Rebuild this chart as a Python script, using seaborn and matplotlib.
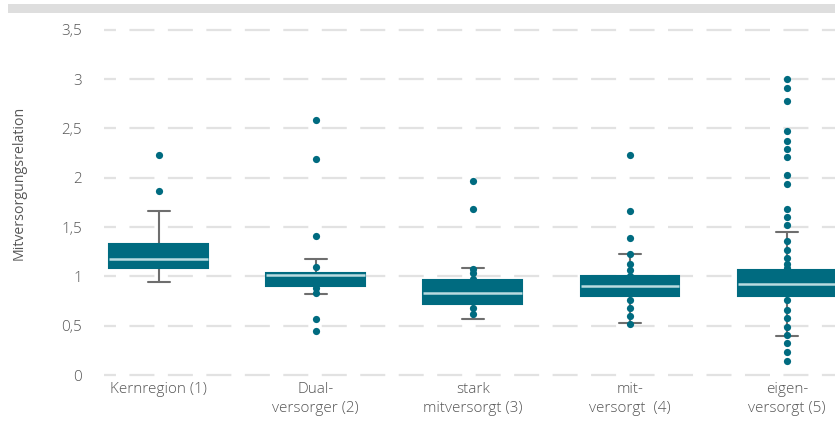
import matplotlib
matplotlib.use("Agg")
import matplotlib.pyplot as plt
import matplotlib.patches as mpatches
import pandas as pd
import seaborn as sns

# Regions (x categories)
categories = [
    "Kernregion (1)",
    "Dual-\nversorger (2)",
    "stark\nmitversorgt (3)",
    "mit-\nversorgt  (4)",
    "eigen-\nversorgt (5)",
]

# Five-number summaries per region
whisker_low = [0.94, 0.82, 0.57, 0.53, 0.40]
quartile_1 = [1.09, 0.90, 0.72, 0.80, 0.80]
median = [1.18, 1.01, 0.83, 0.90, 0.92]
quartile_3 = [1.33, 1.03, 0.96, 1.00, 1.07]
whisker_high = [1.66, 1.18, 1.09, 1.23, 1.45]

# Individual regions shown as points
points_kern = [2.23, 1.87]
points_dual = [2.59, 2.19, 1.41, 1.10, 0.88, 0.83, 0.57, 0.45]
points_stark = [1.97, 1.68, 1.08, 1.03, 0.97, 0.68, 0.62]
points_mit = [2.23, 1.66, 1.39, 1.23, 1.13, 1.07, 1.00, 0.76, 0.68, 0.60, 0.52]
points_eigen = [3.00, 2.91, 2.78, 2.47, 2.37, 2.29, 2.21, 2.03, 1.94, 1.68,
                1.60, 1.52, 1.36, 1.27, 1.19, 1.13, 1.09, 0.76, 0.66, 0.58,
                0.49, 0.41, 0.33, 0.23, 0.14]

y_ticks = [0, 0.5, 1, 1.5, 2, 2.5, 3, 3.5]
y_tick_labels = ["0", "0,5", "1", "1,5", "2", "2,5", "3", "3,5"]
y_label = "Mitversorgungsrelation"

TEAL = "#006b80"
MEDIAN_COLOR = "#b9dbe0"
WHISKER_COLOR = "#6e6e6e"
TEXT_COLOR = "#575757"
GRID_COLOR = "#e2e2e2"
FONT_SIZE = 11

sns.set_theme(style="white")
plt.rcParams["font.family"] = ["Open Sans", "DejaVu Sans"]
plt.rcParams["font.weight"] = "light"
plt.rcParams["lines.scale_dashes"] = False

# Long-form tables
box_rows = []
for cat, a, b, c, d, e in zip(categories, whisker_low, quartile_1, median,
                              quartile_3, whisker_high):
    for v in (a, b, c, d, e):
        box_rows.append({"region": cat, "value": v})
box_df = pd.DataFrame(box_rows)

point_rows = []
for cat, pts in zip(categories, [points_kern, points_dual, points_stark,
                                 points_mit, points_eigen]):
    for v in pts:
        point_rows.append({"region": cat, "value": v})
point_df = pd.DataFrame(point_rows)

fig = plt.figure(figsize=(8.35, 4.3), dpi=100)
ax = fig.add_axes([0.1246, 0.1209, 0.8754, 0.8326])

# Grey band across the top
fig.patches.append(mpatches.Rectangle(
    (8 / 835, 1 - 12.7 / 430), 1 - 8 / 835, 8.7 / 430,
    transform=fig.transFigure, facecolor="#dedede", edgecolor="none"))

sns.boxplot(
    data=box_df, x="region", y="value", order=categories,
    whis=(0, 100), width=0.63, fliersize=0, ax=ax,
    linecolor=WHISKER_COLOR, linewidth=1.5,
    boxprops=dict(facecolor=TEAL, edgecolor=TEAL, zorder=3),
    medianprops=dict(color=MEDIAN_COLOR, linewidth=1.8, zorder=3.5),
    whiskerprops=dict(color=WHISKER_COLOR, linewidth=1.5, zorder=2),
    capprops=dict(color=WHISKER_COLOR, linewidth=1.5, zorder=2),
    capwidths=0.14,
)

sns.stripplot(
    data=point_df, x="region", y="value", order=categories,
    jitter=False, color=TEAL, size=5.2, linewidth=0, ax=ax, zorder=2.5,
)

ax.set_xlim(-0.348, 4.305)
ax.set_ylim(-0.03, 3.6)
ax.set_yticks(y_ticks)
ax.set_yticklabels(y_tick_labels)
ax.set_xlabel("")
ax.set_ylabel(y_label, color=TEXT_COLOR, fontsize=10.2)
ax.yaxis.set_label_coords(-0.106, 0.545)

ax.set_axisbelow(True)
ax.yaxis.grid(True, color=GRID_COLOR, linewidth=1.6,
              linestyle=(9.4, (18, 9.7)))
ax.xaxis.grid(False)
for s in ax.spines.values():
    s.set_visible(False)

ax.tick_params(axis="y", length=0, pad=16, labelsize=FONT_SIZE,
               labelcolor=TEXT_COLOR)
ax.tick_params(axis="x", length=0, pad=3, labelsize=FONT_SIZE,
               labelcolor=TEXT_COLOR)
for lbl in ax.get_xticklabels():
    lbl.set_multialignment("center")
    lbl.set_linespacing(1.35)

fig.savefig("out.png", dpi=100)
